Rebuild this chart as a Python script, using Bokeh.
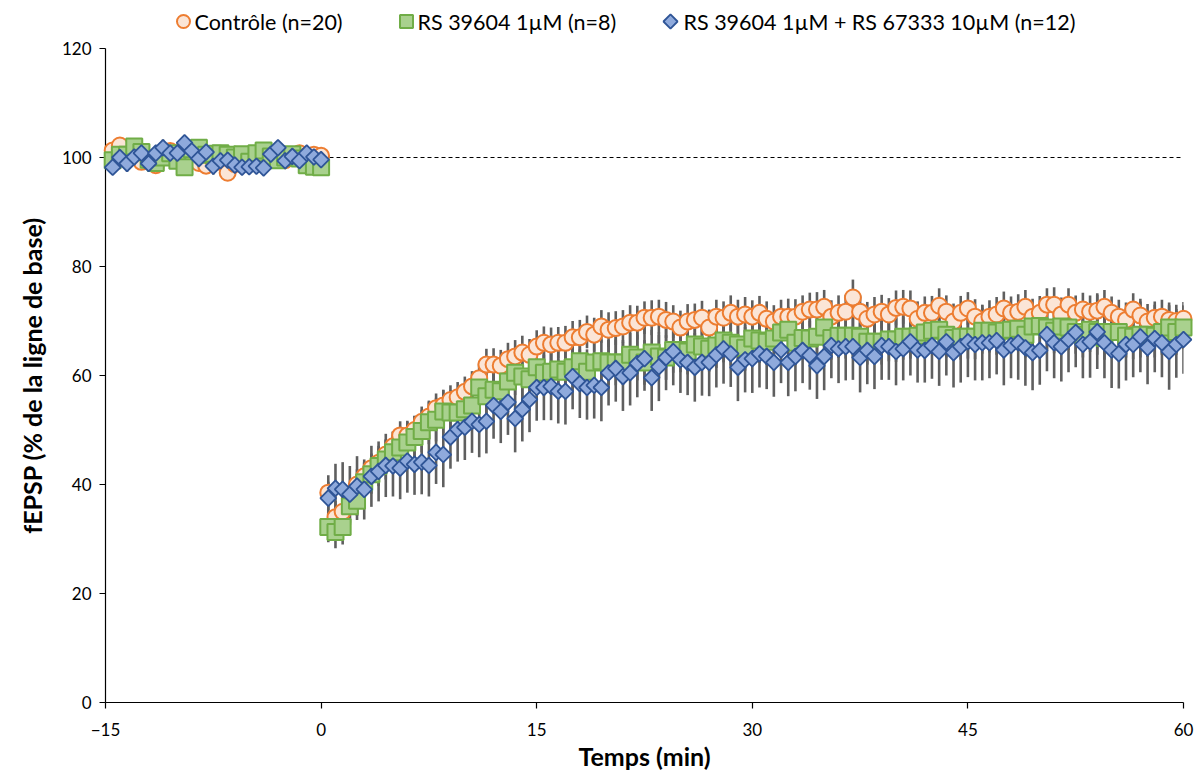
from bokeh.plotting import figure
from bokeh.layouts import column
from bokeh.models import Span, ColumnDataSource, FixedTicker, Range1d
from bokeh.core.properties import value
from bokeh.embed import file_html
from bokeh.resources import INLINE
import math

# ---- data ----
t_start = -14.5
t_step = 0.5

series_names = ["Contrôle (n=20)", "RS 39604 1µM (n=8)", "RS 39604 1µM + RS 67333 10µM (n=12)"]

ctrl_base = [101.3, 102.2, 100.5, 100.8, 99.2, 99.5, 98.6, 100.5, 101.2, 100.5,
             101.5, 99.5, 99.0, 98.5, 99.5, 99.2, 97.2, 98.8, 99.5, 100.0,
             100.5, 100.2, 100.5, 100.8, 99.5, 100.2, 100.8, 100.3, 100.5, 100.3]
ctrl_post = [38.5, 34.0, 35.0, 37.5, 40.0, 41.5, 43.0, 44.0, 45.5, 47.0,
             49.0, 49.0, 50.0, 51.5, 52.5, 54.0, 54.5, 55.5, 56.0, 57.0,
             58.0, 59.5, 62.0, 62.0, 61.8, 63.0, 63.5, 64.2, 63.8, 65.3,
             66.0, 65.7, 66.0, 66.0, 67.0, 67.0, 68.0, 67.5, 69.0, 68.4,
             68.7, 69.0, 69.7, 69.7, 70.6, 70.6, 70.8, 70.2, 69.9, 68.8,
             69.9, 70.2, 70.6, 68.8, 70.8, 70.6, 71.5, 70.8, 71.2, 70.8,
             71.5, 70.4, 69.9, 70.8, 70.8, 70.8, 71.7, 72.1, 72.1, 72.6,
             70.8, 71.5, 71.7, 74.3, 71.7, 70.4, 71.2, 71.7, 71.2, 72.4,
             72.6, 72.3, 70.4, 71.5, 71.5, 72.8, 71.7, 69.9, 71.5, 72.3,
             70.8, 69.9, 70.8, 71.2, 72.3, 71.5, 71.7, 72.6, 70.8, 71.5,
             73.0, 73.0, 71.2, 73.0, 71.5, 72.1, 71.7, 71.9, 72.6, 71.5,
             70.8, 70.2, 72.1, 71.0, 69.9, 70.6, 70.8, 70.2, 70.0, 70.4]

rs_base = [99.5, 100.5, 100.5, 102.0, 101.0, 99.6, 99.0, 100.0, 100.8, 99.4,
           98.2, 101.5, 101.8, 100.5, 100.7, 100.8, 100.5, 100.0, 100.6, 99.2,
           100.8, 101.3, 100.2, 99.5, 100.0, 100.6, 99.8, 98.6, 98.3, 98.2]
rs_post = [32.2, 31.3, 32.2, 36.0, 37.0, 40.4, 41.9, 43.4, 44.6, 45.9,
           46.8, 47.7, 48.7, 49.8, 51.4, 51.9, 53.4, 53.2, 53.2, 53.8,
           54.5, 57.8, 56.2, 57.4, 57.1, 58.9, 60.5, 59.8, 59.3, 61.5,
           60.5, 60.7, 61.1, 60.7, 61.5, 62.6, 60.7, 62.4, 62.6, 62.4,
           62.4, 62.4, 63.8, 63.3, 62.4, 64.2, 63.5, 63.3, 64.7, 64.7,
           64.4, 65.7, 65.3, 64.9, 65.5, 66.4, 66.0, 65.7, 65.1, 66.8,
           66.4, 66.2, 66.8, 67.9, 68.4, 66.0, 66.9, 66.8, 67.1, 68.8,
           66.9, 67.3, 67.3, 67.3, 67.1, 66.2, 66.2, 66.2, 66.6, 66.6,
           67.1, 67.1, 67.3, 67.9, 68.2, 68.4, 67.5, 66.9, 67.1, 67.1,
           67.1, 68.2, 68.2, 67.9, 68.2, 68.4, 68.6, 67.5, 69.0, 69.1,
           68.8, 68.2, 69.0, 68.8, 68.0, 67.5, 68.4, 68.0, 66.9, 68.0,
           68.0, 67.3, 67.1, 67.5, 67.5, 67.3, 68.0, 68.8, 68.0, 68.8]

combo_base = [98.2, 100.0, 98.9, 100.1, 100.8, 98.9, 100.8, 101.8, 100.8, 100.8,
              102.7, 101.2, 99.8, 101.0, 98.4, 99.4, 99.5, 98.6, 98.2, 98.3,
              98.4, 98.1, 100.6, 101.8, 99.4, 100.2, 99.4, 100.8, 100.1, 99.6]
combo_post = [37.5, 39.3, 39.1, 38.2, 39.7, 39.1, 41.5, 42.4, 43.5, 43.4,
              43.0, 44.3, 43.7, 44.1, 43.5, 45.9, 45.5, 48.7, 50.1, 50.5,
              51.6, 51.0, 51.6, 54.5, 53.4, 55.1, 52.1, 53.8, 55.6, 57.8,
              57.8, 58.0, 57.1, 57.1, 59.8, 58.5, 57.8, 58.2, 57.8, 60.5,
              61.3, 59.8, 60.5, 62.2, 63.1, 59.6, 61.6, 63.3, 64.4, 62.9,
              62.4, 61.5, 62.4, 62.4, 63.8, 64.9, 64.0, 61.5, 62.9, 63.1,
              64.0, 63.5, 62.4, 64.7, 62.4, 63.5, 64.6, 63.7, 61.8, 63.5,
              65.5, 64.9, 65.3, 65.3, 63.3, 64.6, 63.5, 65.5, 65.3, 64.4,
              64.9, 66.2, 64.7, 64.6, 65.5, 64.4, 66.2, 64.2, 65.3, 66.2,
              65.7, 66.0, 66.0, 66.4, 64.7, 65.5, 66.0, 65.1, 64.2, 64.6,
              67.5, 66.0, 65.3, 66.6, 67.9, 65.7, 66.2, 68.0, 66.0, 64.7,
              64.0, 65.7, 65.7, 67.1, 65.1, 66.8, 66.0, 64.4, 65.7, 66.6]

# SEM (error bars), baseline then post
ctrl_sem = [1.2, 1.0, 1.1, 1.3, 1.0, 1.2, 1.1, 1.0, 1.2, 1.1,
            1.0, 1.2, 1.1, 1.3, 1.0, 1.1, 1.2, 1.0, 1.1, 1.2,
            1.0, 1.1, 1.2, 1.0, 1.1, 1.2, 1.0, 1.1, 1.0, 1.2,
            3.2, 3.0, 2.9, 2.8, 2.8, 2.7, 2.7, 2.6, 2.6, 2.7,
            2.6, 2.7, 2.6, 2.8, 2.7, 2.7, 2.8, 2.7, 2.8, 2.8,
            2.8, 2.9, 2.9, 3.0, 2.9, 3.0, 3.0, 3.1, 2.9, 3.0,
            3.0, 3.1, 2.9, 3.1, 3.0, 3.2, 3.0, 3.1, 3.0, 3.2,
            3.1, 3.0, 3.2, 3.1, 3.0, 3.2, 3.1, 3.3, 3.0, 3.1,
            3.2, 3.0, 3.1, 3.3, 3.1, 3.0, 3.2, 3.1, 3.2, 3.0,
            3.1, 3.2, 3.0, 3.1, 3.3, 3.2, 3.0, 3.1, 3.2, 3.1,
            3.0, 3.2, 3.1, 3.3, 3.0, 3.1, 3.2, 3.1, 3.0, 3.2,
            3.1, 3.3, 3.2, 3.0, 3.1, 3.2, 3.0, 3.3, 3.1, 3.0,
            3.2, 3.1, 3.0, 3.2, 3.1, 3.0, 3.2, 3.1, 3.3, 3.1,
            3.0, 3.2, 3.1, 3.0, 3.2, 3.1, 3.0, 3.2, 3.1, 3.0,
            3.1, 3.2, 3.0, 3.1, 3.2, 3.0, 3.1, 3.2, 3.0, 3.1]
rs_sem = [1.3, 1.2, 1.4, 1.1, 1.3, 1.2, 1.3, 1.4, 1.2, 1.3,
          1.2, 1.3, 1.1, 1.2, 1.3, 1.2, 1.4, 1.2, 1.3, 1.2,
          1.3, 1.2, 1.1, 1.3, 1.2, 1.3, 1.2, 1.4, 1.3, 1.2,
          2.8, 3.0, 3.2, 3.4, 3.5, 3.6, 3.6, 3.7, 3.7, 3.8,
          3.8, 3.8, 3.9, 3.9, 4.0, 4.0, 4.0, 4.1, 4.0, 4.1,
          4.0, 4.1, 4.2, 4.0, 4.1, 4.2, 4.1, 4.0, 4.2, 4.1,
          4.2, 4.1, 4.2, 4.0, 4.1, 4.2, 4.1, 4.2, 4.0, 4.1,
          4.2, 4.1, 4.0, 4.2, 4.1, 4.2, 4.0, 4.1, 4.2, 4.1,
          4.2, 4.0, 4.1, 4.2, 4.1, 4.0, 4.2, 4.1, 4.2, 4.0,
          4.1, 4.2, 4.0, 4.1, 4.2, 4.1, 4.0, 4.2, 4.1, 4.2,
          4.0, 4.1, 4.2, 4.1, 4.0, 4.2, 4.1, 4.2, 4.0, 4.1,
          4.2, 4.0, 4.1, 4.2, 4.1, 4.0, 4.2, 4.1, 4.2, 4.0,
          4.1, 4.2, 4.0, 4.1, 4.2, 4.1, 4.0, 4.2, 4.1, 4.2,
          4.0, 4.1, 4.2, 4.1, 4.0, 4.2, 4.1, 4.2, 4.0, 4.1,
          4.2, 4.0, 4.1, 4.2, 4.1, 4.0, 4.2, 4.1, 4.2, 4.0]
combo_sem = [1.4, 1.2, 1.5, 1.3, 1.2, 1.4, 1.3, 1.5, 1.2, 1.3,
             1.4, 1.3, 1.2, 1.4, 1.5, 1.3, 1.2, 1.4, 1.3, 1.2,
             1.4, 1.3, 1.5, 1.2, 1.3, 1.4, 1.2, 1.3, 1.4, 1.3,
             3.0, 4.5, 5.0, 5.2, 5.5, 5.5, 5.6, 5.5, 5.8, 5.6,
             5.7, 5.8, 5.6, 5.9, 5.7, 5.8, 6.0, 5.8, 5.9, 6.0,
             5.8, 6.0, 5.9, 6.1, 5.8, 6.0, 6.2, 5.9, 6.0, 6.1,
             6.0, 6.2, 5.9, 6.1, 6.0, 6.3, 5.9, 6.1, 6.2, 6.0,
             6.1, 6.3, 6.0, 6.2, 5.9, 6.1, 6.3, 6.0, 6.2, 6.1,
             6.0, 6.3, 6.1, 6.2, 6.0, 6.4, 6.1, 6.2, 6.0, 6.3,
             6.2, 6.0, 6.3, 6.1, 6.2, 6.4, 6.0, 6.3, 6.1, 6.2,
             6.0, 6.3, 6.2, 6.1, 6.4, 6.2, 6.0, 6.3, 6.1, 6.2,
             5.8, 6.2, 6.0, 5.9, 6.1, 6.3, 6.2, 6.4, 6.6, 6.5,
             6.6, 6.9, 6.5, 6.2, 6.5, 6.0, 6.8, 7.0, 6.9, 6.3,
             6.7, 6.5, 6.4, 6.0, 6.4, 6.2, 6.6, 6.8, 6.5, 7.0,
             6.4, 6.6, 6.0, 6.5, 6.7, 6.2, 6.3, 7.0, 6.1, 6.3]

y_ticks = [0, 20, 40, 60, 80, 100, 120]
x_ticks = [-15, 0, 15, 30, 45, 60]
baseline_level = 100

FONT = "Lato"

ORANGE = dict(fill_color="#FBE5D6", line_color="#ED7D31", line_width=2)
GREEN = dict(fill_color="#A9D18E", line_color="#70AD47", line_width=2)
BLUE = dict(fill_color="#8FAADC", line_color="#2F5597", line_width=1.8)

ctrl = ctrl_base + ctrl_post
rs = rs_base + rs_post
combo = combo_base + combo_post
n = len(ctrl)
times = [t_start + t_step * i for i in range(n)]

FRAME_L, FRAME_R = 105, 1183

# ---------- legend strip (top), pixel-like coordinates ----------
LH = 34
lf = figure(width=1203, height=LH, output_backend="svg", toolbar_location=None,
            x_range=Range1d(FRAME_L, FRAME_R), y_range=Range1d(0, LH),
            x_axis_location=None, y_axis_location=None,
            min_border_left=FRAME_L, min_border_right=1203 - FRAME_R,
            min_border_top=0, min_border_bottom=0)
lf.xgrid.visible = False
lf.ygrid.visible = False
lf.outline_line_color = None
leg_y = LH - 21
leg_marker_x = [183, 406, 670]
leg_text_x = [194, 417, 683]
lf.scatter([leg_marker_x[0]], [leg_y], marker="circle", size=13, **ORANGE)
lf.scatter([leg_marker_x[1]], [leg_y], marker="square", size=13, **GREEN)
lf.scatter([leg_marker_x[2]], [leg_y], marker="square", angle=math.pi / 4, size=10, **BLUE)
lf.text(x=leg_text_x, y=[leg_y] * 3, text=series_names, text_font=value(FONT),
        text_font_size="21.5px", text_color="black", text_baseline="middle", text_align="left")

# ---------- main plot ----------
TOP = 48 - LH
p = figure(width=1203, height=773 - LH, output_backend="svg", toolbar_location=None,
           x_range=Range1d(-15, 60), y_range=Range1d(0, 120),
           min_border_left=FRAME_L, min_border_right=1203 - FRAME_R,
           min_border_top=TOP, min_border_bottom=69)
p.xgrid.visible = False
p.ygrid.visible = False
p.outline_line_color = None
p.background_fill_color = "white"
p.border_fill_color = "white"

# dashed baseline
p.add_layout(Span(location=baseline_level, dimension="width", line_color="black",
                  line_dash="4 3", line_width=1.2))

# error bars (behind markers)
for vals, sems in [(ctrl, ctrl_sem), (rs, rs_sem), (combo, combo_sem)]:
    src = ColumnDataSource(dict(x=times, lo=[v - s for v, s in zip(vals, sems)],
                                hi=[v + s for v, s in zip(vals, sems)]))
    p.segment(x0="x", y0="lo", x1="x", y1="hi", source=src,
              line_color="#5f5f5f", line_width=2.6)

r_ctrl = p.scatter(times, ctrl, marker="circle", size=16, **ORANGE)
r_rs = p.scatter(times, rs, marker="square", size=16, **GREEN)
r_combo = p.scatter(times, combo, marker="square", angle=math.pi / 4, size=11.2, **BLUE)
for r in (r_ctrl, r_rs, r_combo):
    r.level = "overlay"

# axes
p.xaxis.ticker = FixedTicker(ticks=x_ticks)
p.yaxis.ticker = FixedTicker(ticks=y_ticks)
for ax in (p.xaxis[0], p.yaxis[0]):
    ax.minor_tick_line_color = None
    ax.major_tick_in = 0
    ax.major_tick_out = 6
    ax.axis_line_color = "black"
    ax.axis_line_width = 1.2
    ax.major_tick_line_color = "black"
    ax.major_tick_line_width = 1.2
    ax.major_label_text_font = FONT
    ax.major_label_text_font_size = "17px"
    ax.major_label_text_color = "black"
    ax.axis_label_text_font = FONT
    ax.axis_label_text_font_size = "25px"
    ax.axis_label_text_font_style = "bold"
    ax.axis_label_text_color = "black"
p.xaxis.axis_label = "Temps (min)"
p.yaxis.axis_label = "fEPSP (% de la ligne de base)"
p.xaxis.major_label_standoff = 14
p.yaxis.major_label_standoff = 8
p.xaxis.axis_label_standoff = 2
p.yaxis.axis_label_standoff = 12

layout = column(lf, p, spacing=0)
open("out.html", "w").write(file_html(layout, INLINE))
